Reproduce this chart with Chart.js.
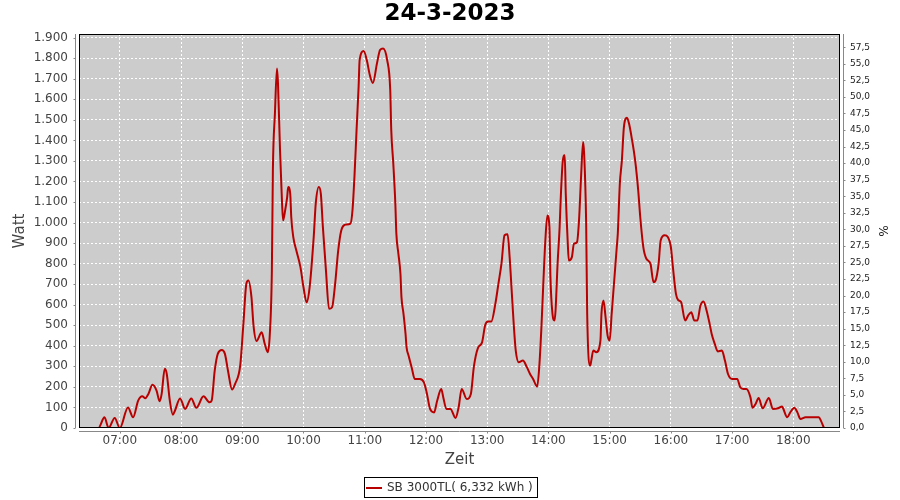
<!DOCTYPE html>
<html>
<head>
<meta charset="utf-8">
<title>24-3-2023</title>
<script src="https://cdn.jsdelivr.net/npm/chart.js@4.4.1/dist/chart.umd.min.js"></script>
<style>
  html, body { margin: 0; padding: 0; background: #fff; }
  #wrap { width: 900px; height: 500px; }
</style>
</head>
<body>
<div id="wrap"><canvas id="chart"></canvas></div>
<script>
// Chart data
const chartTitle = '24-3-2023';
const seriesLabel = 'SB 3000TL( 6,332 kWh )';

const times = [
  '06:33', '06:39', '06:45', '06:49', '06:55', '07:00', '07:08', '07:13', '07:18', '07:22',
  '07:25', '07:28', '07:32', '07:36', '07:39', '07:41', '07:44', '07:46', '07:49', '07:52',
  '07:54', '07:59', '08:04', '08:10', '08:15', '08:22', '08:28', '08:30', '08:33', '08:36',
  '08:40', '08:43', '08:46', '08:50', '08:53', '08:58', '09:01', '09:04', '09:06', '09:09',
  '09:11', '09:14', '09:19', '09:22', '09:25', '09:27', '09:29', '09:30', '09:32', '09:34',
  '09:35', '09:37', '09:39', '09:40', '09:42', '09:44', '09:45', '09:47', '09:48', '09:50',
  '09:53', '09:57', '10:00', '10:03', '10:06', '10:10', '10:12', '10:15', '10:17', '10:19',
  '10:22', '10:25', '10:28', '10:31', '10:34', '10:37', '10:41', '10:46', '10:48', '10:50',
  '10:52', '10:54', '10:55', '10:59', '11:02', '11:05', '11:08', '11:12', '11:15', '11:18',
  '11:22', '11:25', '11:26', '11:28', '11:30', '11:31', '11:33', '11:35', '11:36', '11:38',
  '11:40', '11:41', '11:43', '11:46', '11:49', '11:54', '11:58', '12:01', '12:04', '12:08',
  '12:11', '12:15', '12:17', '12:20', '12:24', '12:29', '12:32', '12:35', '12:40', '12:44',
  '12:47', '12:51', '12:55', '12:58', '13:01', '13:04', '13:08', '13:11', '13:14', '13:17',
  '13:20', '13:22', '13:24', '13:26', '13:28', '13:31', '13:35', '13:39', '13:42', '13:45',
  '13:49', '13:51', '13:53', '13:55', '13:57', '13:59', '14:01', '14:02', '14:04', '14:06',
  '14:07', '14:09', '14:11', '14:12', '14:14', '14:16', '14:17', '14:19', '14:20', '14:23',
  '14:25', '14:28', '14:30', '14:32', '14:34', '14:35', '14:37', '14:38', '14:41', '14:42',
  '14:44', '14:47', '14:51', '14:52', '14:54', '14:56', '14:58', '15:00', '15:02', '15:05',
  '15:07', '15:08', '15:10', '15:12', '15:14', '15:17', '15:19', '15:22', '15:25', '15:28',
  '15:30', '15:33', '15:36', '15:40', '15:43', '15:45', '15:48', '15:50', '15:54', '15:57',
  '16:00', '16:02', '16:05', '16:07', '16:10', '16:14', '16:17', '16:20', '16:23', '16:26',
  '16:29', '16:32', '16:35', '16:38', '16:40', '16:43', '16:46', '16:50', '16:53', '16:56',
  '17:00', '17:05', '17:08', '17:11', '17:14', '17:18', '17:20', '17:23', '17:26', '17:30',
  '17:36', '17:40', '17:45', '17:49', '17:50', '17:54', '17:57', '18:01', '18:04', '18:07',
  '18:12', '18:25', '18:27', '18:30'
];

const watts = [
  0, 0, 52, 0, 49, 0, 100, 52, 133, 154,
  145, 166, 210, 182, 130, 166, 288, 263, 133, 65,
  84, 144, 93, 144, 98, 154, 125, 133, 279, 361,
  380, 361, 279, 187, 215, 305, 500, 702, 718, 637,
  500, 424, 466, 410, 369, 458, 767, 1255, 1531, 1750,
  1677, 1352, 1092, 1011, 1059, 1124, 1173, 1140, 1027, 929,
  864, 783, 685, 612, 685, 929, 1092, 1173, 1140, 978,
  767, 580, 588, 702, 864, 962, 990, 995, 1059, 1230,
  1450, 1661, 1791, 1835, 1791, 1718, 1680, 1775, 1840, 1848,
  1791, 1645, 1450, 1287, 1092, 946, 848, 751, 637, 556,
  458, 393, 352, 295, 239, 239, 222, 166, 93, 76,
  133, 190, 149, 93, 93, 49, 100, 190, 141, 166,
  300, 390, 417, 500, 518, 518, 604, 702, 800, 938,
  943, 832, 669, 507, 377, 320, 328, 295, 263, 239,
  201, 295, 474, 702, 913, 1035, 978, 734, 556, 523,
  572, 800, 978, 1108, 1295, 1328, 1141, 897, 816, 832,
  897, 905, 1011, 1222, 1392, 1336, 994, 556, 304, 328,
  377, 369, 426, 556, 621, 540, 450, 426, 556, 751,
  881, 946, 1190, 1303, 1466, 1510, 1482, 1401, 1303, 1157,
  1027, 881, 824, 800, 710, 718, 800, 913, 938, 930,
  881, 783, 653, 624, 613, 523, 548, 564, 523, 523,
  596, 616, 572, 507, 458, 410, 373, 377, 328, 263,
  239, 239, 198, 190, 190, 149, 98, 117, 146, 96,
  146, 93, 96, 105, 96, 52, 76, 98, 76, 44,
  52, 52, 36, 0
];

const hourTicks = ['07:00', '08:00', '09:00', '10:00', '11:00', '12:00',
                   '13:00', '14:00', '15:00', '16:00', '17:00', '18:00'];
const wattTicks = [0, 100, 200, 300, 400, 500, 600, 700, 800, 900, 1000,
                   1100, 1200, 1300, 1400, 1500, 1600, 1700, 1800, 1900];
const percentTicks = [0, 2.5, 5, 7.5, 10, 12.5, 15, 17.5, 20, 22.5, 25, 27.5, 30,
                      32.5, 35, 37.5, 40, 42.5, 45, 47.5, 50, 52.5, 55, 57.5];

// Helpers
const toMinutes = s => {
  const [h, m] = s.split(':').map(Number);
  return h * 60 + m;
};
const pad2 = n => String(n).padStart(2, '0');
const formatWatt = v => v >= 1000
  ? Math.floor(v / 1000) + '.' + String(v % 1000).padStart(3, '0')
  : String(v);
const formatPercent = v => v.toFixed(1).replace('.', ',');

const points = times.map((t, i) => ({ x: toMinutes(t), y: watts[i] }));

Chart.defaults.font.family = '"DejaVu Sans", sans-serif';
Chart.defaults.color = '#444';

// Grey plot background, black frame, offset axis lines and the boxed legend
const plotFrame = {
  id: 'plotFrame',
  beforeDraw(chart) {
    const { ctx, chartArea: a } = chart;
    ctx.save();
    ctx.fillStyle = '#cccccc';
    ctx.fillRect(a.left, a.top, a.right - a.left, a.bottom - a.top);
    ctx.restore();
  },
  afterDraw(chart) {
    const { ctx, chartArea: a, scales } = chart;
    ctx.save();
    ctx.lineWidth = 1;
    ctx.strokeStyle = '#000';
    ctx.strokeRect(a.left + 0.5, a.top + 0.5, a.right - a.left - 1, a.bottom - a.top - 1);

    ctx.strokeStyle = '#888';
    ctx.beginPath();
    // left axis
    const lx = a.left - 3.5;
    ctx.moveTo(lx, a.top);
    ctx.lineTo(lx, a.bottom);
    scales.y.ticks.forEach(t => {
      const y = Math.round(scales.y.getPixelForValue(t.value)) + 0.5;
      ctx.moveTo(lx, y);
      ctx.lineTo(lx - 2, y);
    });
    // right axis
    const rx = a.right + 3.5;
    ctx.moveTo(rx, a.top);
    ctx.lineTo(rx, a.bottom);
    scales.y1.ticks.forEach(t => {
      const y = Math.round(scales.y1.getPixelForValue(t.value)) + 0.5;
      ctx.moveTo(rx, y);
      ctx.lineTo(rx + 2, y);
    });
    // bottom axis
    const by = a.bottom + 3.5;
    ctx.moveTo(a.left, by);
    ctx.lineTo(a.right, by);
    scales.x.ticks.forEach(t => {
      const x = Math.round(scales.x.getPixelForValue(t.value)) + 0.5;
      ctx.moveTo(x, by);
      ctx.lineTo(x, by + 2);
    });
    ctx.stroke();

    // legend
    const ds = chart.data.datasets[0];
    ctx.font = '12px "DejaVu Sans"';
    const textW = ctx.measureText(ds.label).width;
    const boxW = Math.round(textW + 27);
    const boxL = Math.round(450 - boxW / 2);
    ctx.strokeStyle = '#000';
    ctx.strokeRect(boxL + 0.5, 477.5, boxW, 20);
    ctx.strokeStyle = ds.borderColor;
    ctx.lineWidth = 2;
    ctx.beginPath();
    ctx.moveTo(boxL + 2, 488);
    ctx.lineTo(boxL + 18, 488);
    ctx.stroke();
    ctx.fillStyle = '#333';
    ctx.textBaseline = 'middle';
    ctx.textAlign = 'left';
    ctx.fillText(ds.label, boxL + 23, 488);
    ctx.restore();
  }
};

const gridStyle = { color: '#ffffff', lineWidth: 1, drawTicks: false };

new Chart(document.getElementById('chart'), {
  type: 'line',
  data: {
    datasets: [{
      label: seriesLabel,
      data: points,
      borderColor: '#b80000',
      borderWidth: 2,
      pointRadius: 0,
      fill: false,
      cubicInterpolationMode: 'monotone',
      clip: 0
    }]
  },
  options: {
    responsive: true,
    maintainAspectRatio: false,
    animation: false,
    layout: { padding: { left: 0, right: 0, top: 0, bottom: 31 } },
    plugins: {
      legend: { display: false },
      tooltip: { enabled: false },
      title: {
        display: true,
        text: chartTitle,
        color: '#000',
        font: { size: 23, weight: 'bold' },
        padding: { top: 0, bottom: 6.4 }
      }
    },
    scales: {
      x: {
        type: 'linear',
        min: 380,
        max: 1125.75,
        grid: gridStyle,
        border: { display: false, dash: [2, 2] },
        afterBuildTicks: s => { s.ticks = hourTicks.map(h => ({ value: toMinutes(h) })); },
        afterFit: s => { s.height = 41; },
        ticks: {
          autoSkip: false,
          maxRotation: 0,
          padding: 6,
          color: '#444',
          font: { size: 12 },
          callback: v => pad2(Math.floor(v / 60)) + ':' + pad2(v % 60)
        },
        title: {
          display: true,
          text: 'Zeit',
          color: '#444',
          font: { size: 15 },
          padding: { top: 0, bottom: 0 }
        }
      },
      y: {
        position: 'left',
        min: 0,
        max: 1918,
        grid: gridStyle,
        border: { display: false, dash: [2, 2] },
        afterBuildTicks: s => { s.ticks = wattTicks.map(v => ({ value: v })); },
        afterFit: s => { s.width = 79; },
        ticks: {
          padding: 11,
          color: '#444',
          font: { size: 12 },
          callback: v => formatWatt(v)
        },
        title: {
          display: true,
          text: 'Watt',
          color: '#444',
          font: { size: 15 },
          padding: { top: 11, bottom: 0 }
        }
      },
      y1: {
        position: 'right',
        min: 0,
        max: 59.5,
        grid: { display: false, drawTicks: false },
        border: { display: false },
        afterBuildTicks: s => { s.ticks = percentTicks.map(v => ({ value: v })); },
        afterFit: s => { s.width = 60; },
        ticks: {
          padding: 10,
          color: '#222',
          font: { size: 9 },
          callback: v => formatPercent(v)
        },
        title: {
          display: true,
          text: '%',
          color: '#222',
          font: { size: 12 },
          padding: { top: 10.8, bottom: 0 }
        }
      }
    }
  },
  plugins: [plotFrame]
});
</script>
</body>
</html>
